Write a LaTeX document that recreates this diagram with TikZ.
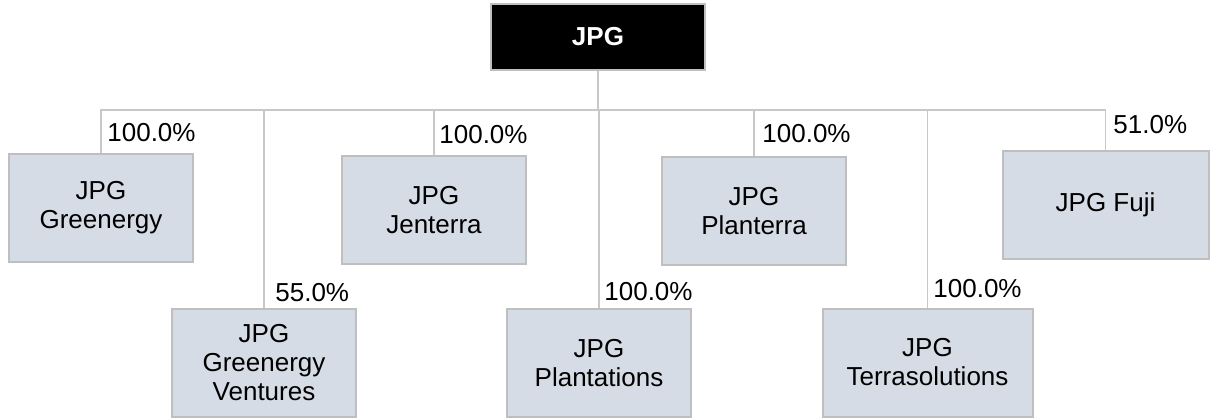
\documentclass[tikz,border=0pt]{standalone}
\usepackage{fontspec}
\setmainfont{Liberation Sans}
\definecolor{boxfill}{HTML}{D6DCE5}
\definecolor{boxline}{HTML}{BFBFBF}
\definecolor{wire}{HTML}{C8C8C8}

\begin{document}
\begin{tikzpicture}[x=0.5pt, y=-0.5pt,
	every node/.style={font=\fontsize{13}{14.5}\selectfont},
	entity/.style={draw=boxline, line width=1pt, fill=boxfill, align=center, minimum width=92pt, minimum height=54pt, inner sep=0pt},
	parent/.style={entity, fill=black, text=white, font=\fontsize{13}{14.5}\selectfont\bfseries, minimum width=107pt, minimum height=33pt},
	share/.style={anchor=base west, inner sep=0pt},
	link/.style={draw=wire, line width=0.6pt}]
	\useasboundingbox (0, 0) rectangle (1212, 419);
	% Boxes:
	\node[parent] (JPG) at (598, 37) {JPG};
	\node[entity] (Greenergy) at (101, 208) {JPG\\Greenergy};
	\node[entity] (Jenterra) at (434, 210) {JPG\\Jenterra};
	\node[entity] (Planterra) at (754, 211) {JPG\\Planterra};
	\node[entity, minimum width=103pt] (Fuji) at (1105.5, 204.5) {JPG Fuji};
	\node[entity] (Ventures) at (264, 363) {JPG\\Greenergy\\Ventures};
	\node[entity] (Plantations) at (599, 363) {JPG\\Plantations};
	\node[entity, minimum width=105pt] (Terrasolutions) at (927.5, 362.5) {JPG\\Terrasolutions};
	% Wires:
	\coordinate (bus) at (598, 110);
	\draw[link] (JPG.south) -- (bus);
	\foreach \sub in {Greenergy, Jenterra, Planterra, Fuji, Ventures, Plantations, Terrasolutions}
		\draw[link] (\sub.north) |- (bus);
	% Shares:
	\node[share] (pGreenergy) at (107, 141) {100.0\%};
	\node[share] (pJenterra) at (439, 143) {100.0\%};
	\node[share] (pPlanterra) at (762, 142) {100.0\%};
	\node[share] (pFuji) at (1113, 133) {51.0\%};
	\node[share] (pVentures) at (275, 301) {55.0\%};
	\node[share] (pPlantations) at (604, 300) {100.0\%};
	\node[share] (pTerrasolutions) at (933, 297) {100.0\%};
\end{tikzpicture}
\end{document}
